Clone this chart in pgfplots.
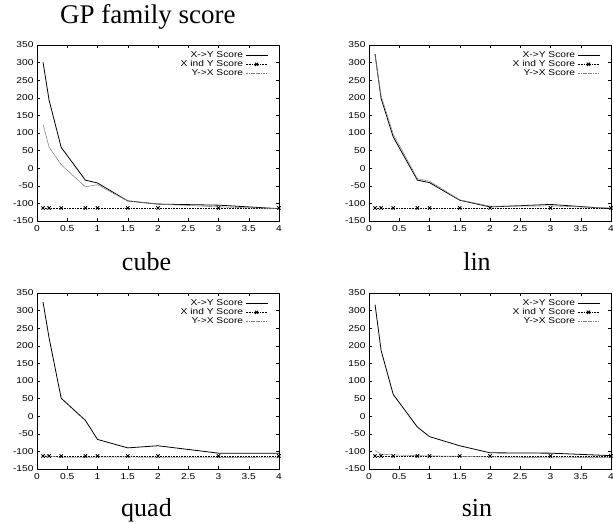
\documentclass[border=0pt]{standalone}
\usepackage{fontspec}
\setmainfont{Liberation Serif}
\newfontfamily\hel[FakeStretch=1.2]{Liberation Sans}
\usepackage{pgfplots}
\pgfplotsset{compat=1.18}

\pgfplotsset{
  gp/.style={
    scale only axis, width=242pt, height=176pt, anchor=south west,
    xmin=0, xmax=4, ymin=-150, ymax=350,
    xtick={0,0.5,...,4}, ytick={-150,-100,...,350},
    tick align=inside, major tick length=3pt,
    tick style={black, line width=0.5pt},
    axis line style={line width=0.6pt},
    /pgf/number format/assume math mode=true,
    ticklabel style={font=\hel\fontsize{8.5}{9}\selectfont},
    xticklabel style={yshift=-1pt},
    yticklabel style={xshift=0pt},
    legend plot pos=right, legend cell align=right,
    legend style={draw=none, fill=none, inner sep=0pt, row sep=-2.5pt,
      font=\hel\fontsize{8.5}{9}\selectfont,
      at={(rel axis cs:0.955,0.975)}, anchor=north east},
    legend image code/.code={
      \draw[mark repeat=2, mark phase=2, #1] plot coordinates {(0pt,0pt) (11pt,0pt) (22pt,0pt)};},
  },
  xy/.style={black, line width=0.8pt},
  ind/.style={black, densely dotted, line width=0.6pt, mark=x, mark size=2.3pt, mark options={solid, line width=0.9pt}},
  yx/.style={gray, line width=0.7pt, dash pattern=on 1.2pt off 0.5pt},
}

\pgfplotstableread{
x    xy    ind   yx
0.1  301  -113  124
0.2  193  -113   60
0.4   59  -113   10
0.8  -34  -113  -53
1    -42  -113  -47
1.5  -93  -113  -93
2   -102  -113 -102
3   -105  -113 -110
4   -115  -113 -115
}\cube
\pgfplotstableread{
x    xy    ind   yx
0.1  324  -113  320
0.2  198  -113  205
0.4   89  -113   97
0.8  -34  -113  -30
1    -41  -113  -37
1.5  -91  -113  -90
2   -110  -113 -108
3   -103  -113 -107
4   -115  -113 -113
}\lin
\pgfplotstableread{
x    xy    ind   yx
0.1  324  -113 -113
0.2  222  -113 -113
0.4   51  -113 -117
0.8  -12  -113 -117
1    -66  -113 -116
1.5  -90  -113 -116
2    -84  -113 -117
3   -105  -113 -117
4   -105  -113 -118
}\quad
\pgfplotstableread{
x    xy    ind   yx
0.1  317  -113  -98
0.2  187  -113 -108
0.4   62  -113 -110
0.8  -31  -113 -112
1    -58  -113 -113
1.5  -84  -113 -114
2   -104  -113 -116
3   -105  -113 -118
4   -112  -113 -117
}\sinx

\newcommand{\panel}[2]{%
  \begin{axis}[gp, at={#1}]
    \addplot[xy] table[x=x, y=xy] {#2};
    \addlegendentry{X->Y Score}
    \addplot[ind] table[x=x, y=ind] {#2};
    \addlegendentry{X ind Y Score}
    \addplot[yx] table[x=x, y=yx] {#2};
    \addlegendentry{Y->X Score}
  \end{axis}}

\begin{document}
\begin{tikzpicture}
\useasboundingbox (0,0) rectangle (613pt,524pt);
\panel{(37pt,303pt)}{\cube}
\panel{(369pt,303pt)}{\lin}
\panel{(37pt,55pt)}{\quad}
\panel{(369pt,55pt)}{\sinx}
\node[anchor=base west, font=\fontsize{27}{30}\selectfont, inner sep=0pt] at (60pt,500pt) {GP family score};
\node[anchor=base, font=\fontsize{26}{30}\selectfont, inner sep=0pt] at (146.5pt,253pt) {cube};
\node[anchor=base, font=\fontsize{26}{30}\selectfont, inner sep=0pt] at (477pt,253pt) {lin};
\node[anchor=base, font=\fontsize{26}{30}\selectfont, inner sep=0pt] at (146.5pt,7pt) {quad};
\node[anchor=base, font=\fontsize{26}{30}\selectfont, inner sep=0pt] at (477pt,7pt) {sin};
\end{tikzpicture}
\end{document}
